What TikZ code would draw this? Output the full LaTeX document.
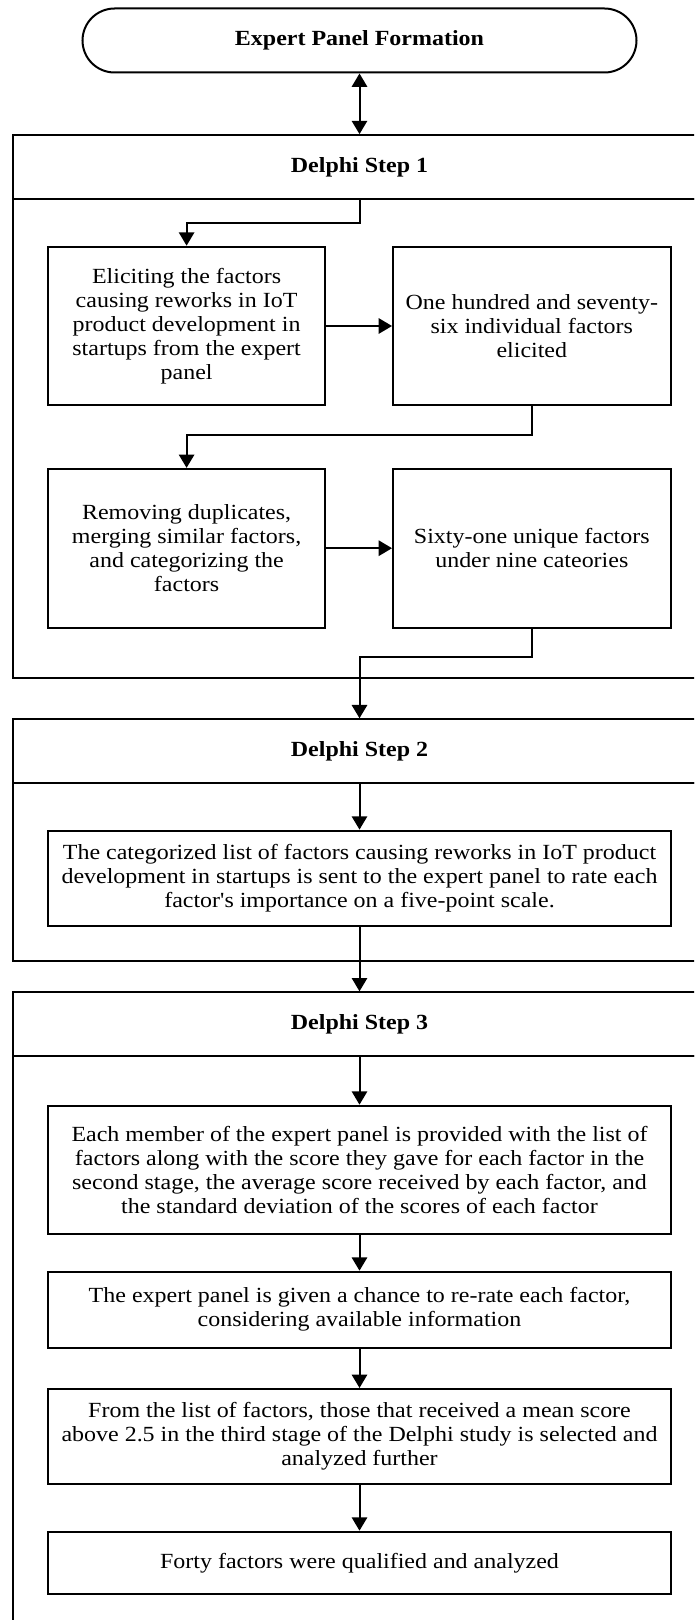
\documentclass[tikz,border=0pt]{standalone}
\usepackage{fontspec}
\setmainfont{Liberation Serif}[FakeStretch=1.11]
\newfontfamily\straightap{Liberation Serif}[FakeStretch=1.11]
\usetikzlibrary{arrows.meta}
\begin{document}
\begin{tikzpicture}[x=0.75pt,y=-0.75pt,
  txt/.style={font={\fontsize{16.2}{18}\selectfont}},
  box/.style={draw, line width=1.5pt, inner sep=0pt, align=center, txt},
  smallbox/.style={box, minimum width=208.2pt, minimum height=119pt},
  widebox/.style={box, minimum width=467.1pt},
  header/.style={draw, line width=1.5pt, inner sep=0pt, align=center, minimum width=519.3pt, font={\fontsize{16.2}{18}\selectfont\bfseries}},
  body/.style={draw, line width=1.5pt, inner sep=0pt, minimum width=519.3pt},
  term/.style={draw, line width=1.5pt, rounded corners=24pt, minimum width=415.5pt, minimum height=48pt, font={\fontsize{16.2}{18}\selectfont\bfseries}},
  arr/.style={line width=1.5pt, -{Triangle[length=10pt,width=11.5pt]}},
  darr/.style={line width=1.5pt, {Triangle[length=10pt,width=11.5pt]}-{Triangle[length=10pt,width=11.5pt]}}
]
\useasboundingbox (0,0) rectangle (694,1620);
\clip (0,0) rectangle (694,1620);
\fill[white] (0,0) rectangle (694,1620);

% Terminal
\node[term] (tm) at (359.5,40.5) {Expert Panel Formation};

% Step 1
\node[header, minimum height=48pt] (h1) at (359.5,167.15) {Delphi Step 1};
\node[body, minimum height=359.25pt] (b1) at (359.5,438.8) {};
\node[smallbox] (A) at (186.6,326) {Eliciting the factors\\causing reworks in IoT\\product development in\\startups from the expert\\panel};
\node[smallbox] (B) at (531.8,326) {One hundred and seventy-\\six individual factors\\elicited};
\node[smallbox] (C) at (186.6,548.2) {Removing duplicates,\\merging similar factors,\\and categorizing the\\factors};
\node[smallbox] (D) at (531.8,548.2) {Sixty-one unique factors\\under nine cateories};

% Step 2
\node[header, minimum height=48pt] (h2) at (359.5,751.3) {Delphi Step 2};
\node[body, minimum height=133pt] (b2) at (359.5,872) {};
\node[widebox, minimum height=71.5pt] (E) at (359.5,878.3) {The categorized list of factors causing reworks in IoT product\\development in startups is sent to the expert panel to rate each\\factor{\straightap'}s importance on a five-point scale.};

% Step 3
\node[header, minimum height=47.5pt] (h3) at (359.5,1024) {Delphi Step 3};
\node[body, minimum height=438.2pt] (b3) at (359.5,1347.85) {};
\node[widebox, minimum height=96.2pt] (F) at (359.5,1169.8) {Each member of the expert panel is provided with the list of\\factors along with the score they gave for each factor in the\\second stage, the average score received by each factor, and\\the standard deviation of the scores of each factor};
\node[widebox, minimum height=57pt] (G) at (359.5,1309.7) {The expert panel is given a chance to re-rate each factor,\\considering available information};
\node[widebox, minimum height=71pt] (H) at (359.5,1436.3) {From the list of factors, those that received a mean score\\above 2.5 in the third stage of the Delphi study is selected and\\analyzed further};
\node[widebox, minimum height=47pt] (I) at (359.5,1563) {Forty factors were qualified and analyzed};

% Connectors
\coordinate (k1) at (359.5,222.7);
\coordinate (k2) at (531.8,435);
\coordinate (k3) at (531.8,657.3);
\draw[darr] (tm.south) -- (h1.north);
\draw[arr] (h1.south) -- (k1) -| (A.north);
\draw[arr] (A.east) -- (B.west);
\draw[arr] (B.south) -- (k2) -| (C.north);
\draw[arr] (C.east) -- (D.west);
\draw[arr] (D.south) -- (k3) -| (h2.north);
\draw[arr] (h2.south) -- (E.north);
\draw[arr] (E.south) -- (h3.north);
\draw[arr] (h3.south) -- (F.north);
\draw[arr] (F.south) -- (G.north);
\draw[arr] (G.south) -- (H.north);
\draw[arr] (H.south) -- (I.north);
\end{tikzpicture}
\end{document}
